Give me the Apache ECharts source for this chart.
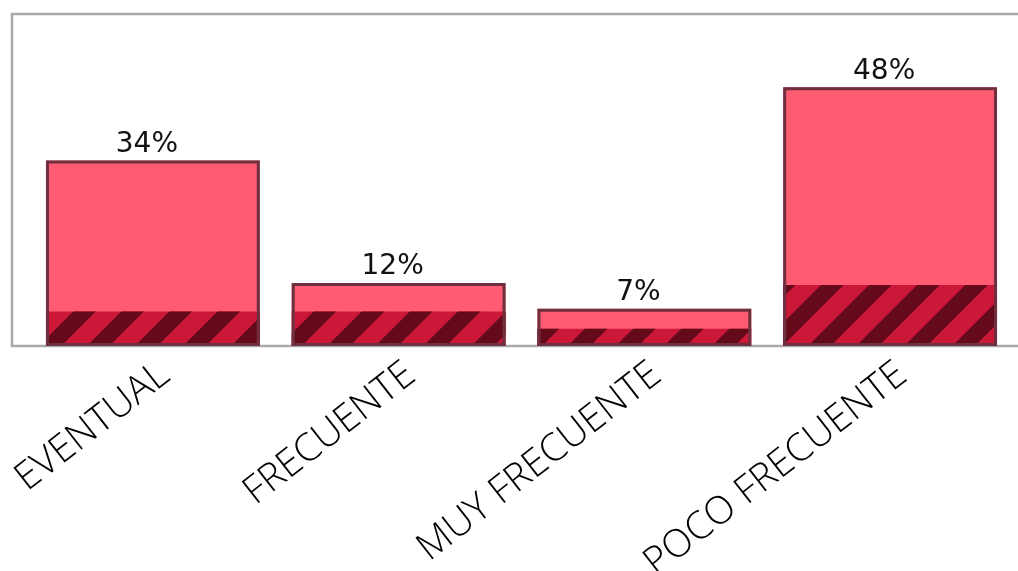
<!DOCTYPE html>
<html><head><meta charset="utf-8">
<script src="https://cdn.jsdelivr.net/npm/echarts@6/dist/echarts.min.js"></script>
<style>html,body{margin:0;padding:0;background:#fff}#c{width:1018px;height:571px}</style>
</head><body><div id="c"></div>
<script>
const categories = ['EVENTUAL', 'FRECUENTE', 'MUY FRECUENTE', 'POCO FRECUENTE'];
const totalValues = [34.4, 11.7, 6.9, 48.0];
const hatchedValues = [6.4, 6.4, 3.2, 11.3];
const valueLabels = ['34%', '12%', '7%', '48%'];

const chart = echarts.init(document.getElementById('c'), null, {renderer: 'canvas'});
chart.setOption({
  animation: false,
  grid: {left: 30, right: 5, top: 14, bottom: 225, containLabel: false, outerBoundsMode: 'none'},
  graphic: [{
    type: 'rect', z: 0,
    shape: {x: 12, y: 14, width: 1020, height: 332},
    style: {fill: 'none', stroke: '#aaaaaa', lineWidth: 2.5}
  }],
  xAxis: {
    type: 'category', data: categories,
    axisLine: {show: false}, axisTick: {show: false},
    axisLabel: {rotate: 38, margin: 9, fontSize: 38.5, fontFamily: 'Open Sans', fontWeight: 300, color: '#000', interval: 0,
      align: 'right', verticalAlign: 'top'}
  },
  yAxis: {type: 'value', min: 0, max: 61.6, show: false, splitLine: {show: false}},
  series: [
    {
      type: 'bar', data: totalValues, barWidth: '87%', barGap: '-100%',
      itemStyle: {color: '#FF5C73'},
      label: {show: true, position: 'top', distance: 2, offset: [-6, 0], fontSize: 28, fontFamily: 'DejaVu Sans', color: '#111',
        formatter: p => valueLabels[p.dataIndex]}
    },
    {
      type: 'bar', data: hatchedValues, barWidth: '87%', barGap: '-100%',
      itemStyle: {
        color: '#CC1838',
        decal: {symbol: 'rect', symbolSize: 1, dashArrayX: [1, 0], dashArrayY: [16, 18], rotation: -Math.PI / 4, color: '#640A1A'}
      }
    },
    {
      type: 'bar', data: totalValues, barWidth: '87%', barGap: '-100%',
      itemStyle: {color: 'rgba(0,0,0,0)', borderColor: '#6E2F3E', borderWidth: 3}
    }
  ]
});
</script></body></html>
